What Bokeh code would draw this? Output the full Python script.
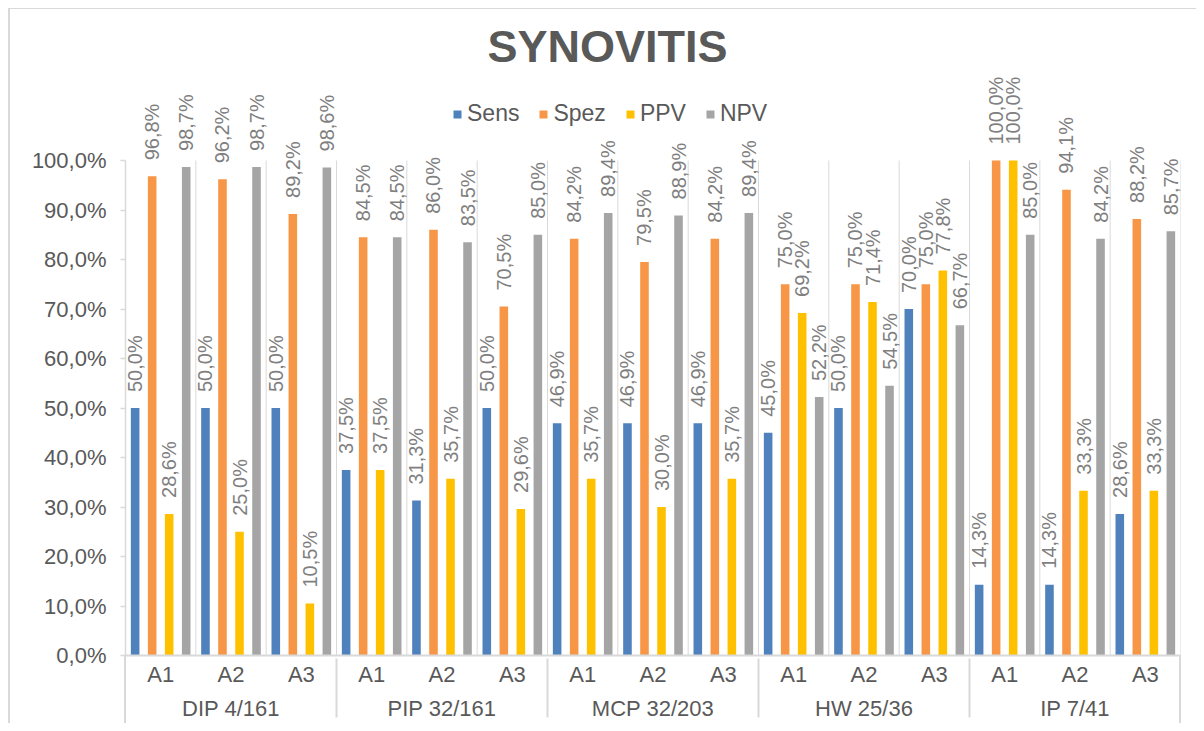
import math
from bokeh.plotting import figure
from bokeh.models import (ColumnDataSource, FactorRange, Range1d, FixedTicker,
                          CustomJSTickFormatter)
from bokeh.transform import dodge
from bokeh.core.properties import value
from bokeh.embed import file_html
from bokeh.resources import INLINE

# ---------------- data ----------------
groups = ["DIP 4/161", "PIP 32/161", "MCP 32/203", "HW 25/36", "IP 7/41"]
subgroups = ["A1", "A2", "A3"]
series_names = ["Sens", "Spez", "PPV", "NPV"]
series_colors = ["#4F81BD", "#F79646", "#FFC000", "#A5A5A5"]

sens = [0.500, 0.500, 0.500, 0.375, 0.313, 0.500, 0.469, 0.469, 0.469,
        0.450, 0.500, 0.700, 0.143, 0.143, 0.286]
spez = [0.968, 0.962, 0.892, 0.845, 0.860, 0.705, 0.842, 0.795, 0.842,
        0.750, 0.750, 0.750, 1.000, 0.941, 0.882]
ppv = [0.286, 0.250, 0.105, 0.375, 0.357, 0.296, 0.357, 0.300, 0.357,
       0.692, 0.714, 0.778, 1.000, 0.333, 0.333]
npv = [0.987, 0.987, 0.986, 0.845, 0.835, 0.850, 0.894, 0.889, 0.894,
       0.522, 0.545, 0.667, 0.850, 0.842, 0.857]
yticks = [0.0, 0.1, 0.2, 0.3, 0.4, 0.5, 0.6, 0.7, 0.8, 0.9, 1.0]
title_text = "SYNOVITIS"

series_values = [sens, spez, ppv, npv]
factors = [(g, s) for g in groups for s in subgroups]

# ---------------- styling constants ----------------
FONT = "Liberation Sans"
TXT = "#595959"
LBL = "#7f7f7f"
GRID = "#d9d9d9"
W, H = 1196, 723
LEFT, RIGHT, TOP, BOTTOM = 125, 16, 8, 68
PX_PER_UNIT = 495.0          # pixels per 100 %
offsets = [-0.363, -0.121, 0.121, 0.363]
bar_w = 0.122
n = len(factors)
px_per_factor = (W - LEFT - RIGHT) / n


def fmt(v):
    return f"{v * 100:.1f}".replace(".", ",") + "%"


p = figure(width=W, height=H,
           x_range=FactorRange(*factors, range_padding=0, group_padding=0,
                               factor_padding=0),
           y_range=Range1d(0, (H - TOP - BOTTOM) / PX_PER_UNIT),
           output_backend="svg", toolbar_location=None,
           min_border_left=LEFT, min_border_right=RIGHT,
           min_border_top=TOP, min_border_bottom=BOTTOM)
p.outline_line_color = None
p.xgrid.grid_line_color = None
p.ygrid.grid_line_color = None
p.background_fill_alpha = 0
p.border_fill_alpha = 0

# chart-area frame and axis extension lines drawn as page background
g = f"linear-gradient({GRID}, {GRID})"
p.styles = {
    "background": (
        f"{g} 8px 8px / 2px {H}px no-repeat, "
        f"{g} 8px 8px / {W}px 1px no-repeat, "
        f"{g} {LEFT - 1}px {H - BOTTOM}px / 2px {BOTTOM}px no-repeat, "
        f"{g} {W - RIGHT - 1}px {H - BOTTOM}px / 2px {BOTTOM}px no-repeat, "
        "#ffffff"
    )
}

# vertical separator lines between sub-categories
bounds = list(range(n + 1))
p.segment(x0=bounds, x1=bounds, y0=[0] * len(bounds), y1=[1] * len(bounds),
          line_color=GRID, line_width=1)

src = ColumnDataSource(dict(x=factors, **{nm: v for nm, v in zip(series_names, series_values)}))

for nm, col, off, vals in zip(series_names, series_colors, offsets, series_values):
    p.vbar(x=dodge("x", off, range=p.x_range), top=nm, width=bar_w, source=src,
           fill_color=col, line_color=None, legend_label=nm)
    lsrc = ColumnDataSource(dict(x=factors,
                                 y=[v + 16 / PX_PER_UNIT for v in vals],
                                 t=[fmt(v) for v in vals]))
    p.text(x=dodge("x", off, range=p.x_range), y="y", text="t", source=lsrc,
           angle=math.pi / 2, text_align="left", text_baseline="middle",
           text_font=value(FONT), text_font_size="20px", text_color=LBL)

# title (centred on the whole chart area)
p.text(x=[(607 - LEFT) / px_per_factor], y=[(H - BOTTOM - 46) / PX_PER_UNIT],
       text=[title_text], text_align="center", text_baseline="middle",
       text_font=value(FONT), text_font_size="45px", text_font_style="bold",
       text_color=TXT)

# y axis
yax = p.yaxis[0]
yax.ticker = FixedTicker(ticks=yticks)
yax.formatter = CustomJSTickFormatter(code="return (tick*100).toFixed(1).replace('.', ',') + '%';")
yax.bounds = (0, 1)
yax.axis_line_color = GRID
yax.axis_line_width = 1.5
yax.major_tick_line_color = GRID
yax.major_tick_line_width = 1.5
yax.major_tick_out = 5
yax.major_tick_in = 0
yax.minor_tick_line_color = None
yax.major_label_standoff = 14
yax.major_label_text_font = FONT
yax.major_label_text_font_size = "22px"
yax.major_label_text_color = TXT

# x axis
xax = p.xaxis[0]
xax.axis_line_color = GRID
xax.axis_line_width = 2
xax.major_tick_line_color = None
xax.minor_tick_line_color = None
xax.major_tick_out = 0
xax.major_tick_in = 0
xax.major_label_standoff = 6
xax.major_label_text_font = FONT
xax.major_label_text_font_size = "22px"
xax.major_label_text_line_height = 1.0
xax.major_label_text_color = TXT
xax.group_text_font = FONT
xax.group_text_font_size = "22px"
xax.group_text_line_height = 1.0
xax.group_text_font_style = "normal"
xax.group_text_color = TXT
xax.separator_line_color = GRID
xax.separator_line_width = 2

# legend
lg = p.legend[0]
lg.orientation = "horizontal"
lg.location = (327, 528)
lg.background_fill_alpha = 0
lg.border_line_color = None
lg.padding = 0
lg.margin = 0
lg.spacing = 19
lg.glyph_width = 10
lg.glyph_height = 10
lg.label_standoff = 5
lg.label_text_font = FONT
lg.label_text_font_size = "23px"
lg.label_text_color = TXT

open("out.html", "w").write(file_html(p, INLINE))
